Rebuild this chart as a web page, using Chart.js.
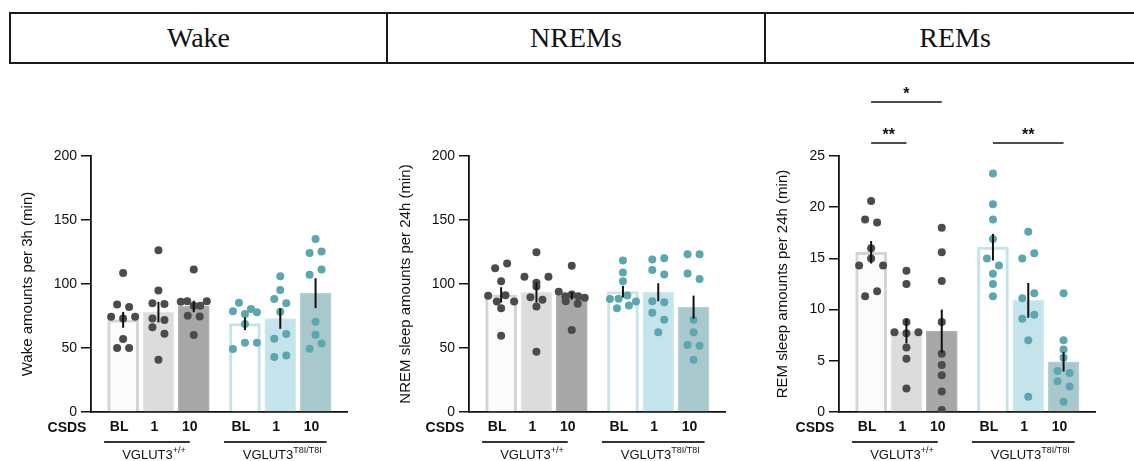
<!DOCTYPE html>
<html>
<head>
<meta charset="utf-8">
<title>Sleep amounts after CSDS</title>
<script src="https://cdn.jsdelivr.net/npm/chart.js@4.4.1/dist/chart.umd.min.js"></script>
<style>
  html, body { margin: 0; padding: 0; background: #fff; }
  body { width: 1134px; height: 461px; overflow: hidden; position: relative; }
  #header { position: absolute; left: 9px; top: 12px; height: 52px; width: 1137px; box-sizing: border-box;
            border: 2px solid #1a1a1a; display: flex; font-family: 'Liberation Serif', 'Times New Roman', serif;
            font-size: 28px; color: #111; }
  #header div { box-sizing: border-box; height: 48px; line-height: 48px; text-align: center; width: 378px; }
  #header div:nth-child(1) { width: 377px; border-right: 2px solid #1a1a1a; }
  #header div:nth-child(2) { border-right: 2px solid #1a1a1a; }
  .panel { position: absolute; top: 70px; width: 378px; height: 391px; }
</style>
</head>
<body>
<div id="header"></div>
<div class="panel" style="left:0px"><canvas id="wakeChart"></canvas></div>
<div class="panel" style="left:378px"><canvas id="nremChart"></canvas></div>
<div class="panel" style="left:748px"><canvas id="remChart"></canvas></div>
<script>
const headers = ['Wake', 'NREMs', 'REMs'];
const categories = ['BL', '1', '10'];
const genotypes = ['VGLUT3', 'VGLUT3'];
const genotypeSup = ['+/+', 'T8I/T8I'];

// group order everywhere: WT BL, WT 1, WT 10, T8I BL, T8I 1, T8I 10
const wakeMean = [72, 78, 82.5, 69, 73, 92.8];
const wakeSem = [6.2, 8, 4.5, 5, 8, 11.7];
const wakeWtBL = [108.5, 84, 82, 74.5, 73, 74.5, 57, 50, 50];
const wakeWt1 = [126.4, 94.9, 85, 84.3, 73.1, 71.8, 66.3, 61.1, 40.8];
const wakeWt10 = [111.3, 86.1, 86.6, 83, 83, 86.6, 75.2, 74.6, 60.1];
const wakeMutBL = [78.8, 76.5, 85.3, 78, 80.4, 68.7, 49.2, 54.1, 54.1];
const wakeMut1 = [106.1, 95.4, 88.2, 85, 78.3, 57.2, 60.9, 42.9, 44.2];
const wakeMut10 = [135.2, 124.3, 125.4, 107.2, 111.3, 70.5, 60.3, 49.4, 53.6];

const nremMean = [91.5, 93.5, 90.8, 94, 93.6, 81.9];
const nremSem = [6, 8, 3, 4.5, 7, 9];
const nremWtBL = [112.4, 116, 102.2, 90.8, 86.3, 91.3, 86.3, 81.1, 59.6];
const nremWt1 = [124.8, 105.6, 100.9, 105.6, 98, 89.7, 87.6, 82.4, 47.1];
const nremWt10 = [114.2, 93.9, 90.5, 91.8, 90.5, 89.2, 86.6, 84.5, 64];
const nremMutBL = [118.3, 109, 102.2, 88.2, 88.4, 91, 86.3, 81.1, 83.2];
const nremMut1 = [119.1, 120.2, 111, 107.4, 86.6, 85.8, 77.5, 72, 62.4];
const nremMut10 = [123.3, 123.3, 108.2, 104, 72, 62.4, 52.3, 51.8, 40.8];

const remMean = [15.6, 7.9, 7.9, 16.1, 10.9, 4.9];
const remSem = [1.1, 1.2, 2.1, 1.3, 1.7, 0.95];
const remWtBL = [20.6, 18.8, 18.5, 16, 14.3, 15, 14.3, 11.3, 11.8];
const remWt1 = [13.8, 12.5, 8.8, 7.8, 7.7, 7.8, 6.3, 5.2, 2.3];
const remWt10 = [18, 15.6, 12.8, 8.8, 5.7, 4.6, 3.6, 2, 0.2];
const remMutBL = [23.3, 20.3, 18.8, 16.9, 15, 14.3, 13.5, 12.5, 11.3];
const remMut1 = [17.6, 15, 15.5, 11.1, 11.6, 9.1, 9.5, 7, 1.5];
const remMut10 = [11.6, 7, 6.1, 5.3, 4, 3.8, 3, 2.5, 1];

// significance: [from bar, to bar, label, level]
const remSig = [[0, 1, '**', 0], [0, 2, '*', 1], [3, 5, '**', 0]];

const barFill = ['#fbfbfb', '#dcdcdc', '#a7a7a7', '#ffffff', '#c5e3ea', '#a9c8cd'];
const barEdge = ['#d4d4d4', '#e6e6e6', '#b0b0b0', '#c6e3ea', '#d0e9ee', '#b4d0d4'];
const barEdgeW = [3, 1.5, 1.5, 3, 1.5, 1.5];
const dotColor = ['#4b4b4b', '#4b4b4b', '#4b4b4b', '#5ba7b0', '#5ba7b0', '#5ba7b0'];

const X_MIN = 0.09, X_MAX = 7.34, AREA = 256;
const xPos = i => i + 1 + (i >= 3 ? 0.45 : 0);

document.getElementById('header').innerHTML = headers.map(h => '<div>' + h + '</div>').join('');

// prism-like scatter: points within one dot of each other are spread side by side
function swarm(values, yPx, xPx) {
    const order = values.map((v, i) => i).sort((a, b) => values[b] - values[a]);
    const offs = values.map(() => 0);
    let k = 0;
    while (k < order.length) {
        const top = values[order[k]];
        const cl = [];
        while (k < order.length && (top - values[order[k]]) * yPx < 8) cl.push(order[k++]);
        cl.sort((a, b) => a - b);
        const sp = cl.length > 1 ? Math.min(12, 26 / (cl.length - 1)) : 0;
        cl.forEach((idx, j) => { offs[idx] = (j - (cl.length - 1) / 2) * sp / xPx; });
    }
    return offs;
}

Chart.defaults.font.family = "'Liberation Sans', Arial, sans-serif";
Chart.defaults.color = '#111';

function makeChart(id, yTitle, mean, sem, groups, yMax, step, sig, padLeft) {
    const yPx = AREA / yMax, xPx = AREA / (X_MAX - X_MIN);
    const dots = [];
    const dotCols = [];
    groups.forEach((vals, i) => {
        const offs = swarm(vals, yPx, xPx);
        vals.forEach((v, j) => {
            dots.push({ x: xPos(i) + offs[j], y: v });
            dotCols.push(dotColor[i]);
        });
    });

    const extras = {
        id: 'extras',
        afterDatasetsDraw(chart) {
            const { ctx, scales: { x, y } } = chart;
            ctx.save();
            ctx.strokeStyle = '#111';
            ctx.lineWidth = 2;
            mean.forEach((m, i) => {
                const px = x.getPixelForValue(xPos(i));
                ctx.beginPath();
                ctx.moveTo(px, y.getPixelForValue(m - sem[i]));
                ctx.lineTo(px, y.getPixelForValue(m + sem[i]));
                ctx.stroke();
            });
            ctx.restore();
        },
        afterDraw(chart) {
            const { ctx, chartArea, scales: { x } } = chart;
            const b = chartArea.bottom;
            ctx.save();
            ctx.fillStyle = '#111';
            ctx.textAlign = 'center';
            ctx.textBaseline = 'alphabetic';
            ctx.font = "bold 14px 'Liberation Sans', Arial, sans-serif";
            ctx.fillText('CSDS', chartArea.left - 24, b + 20);

            // genotype underline + label
            const lineOff = [[-19, -4], [-21, 11]];
            genotypes.forEach((g, gi) => {
                const x0 = x.getPixelForValue(xPos(gi * 3)) + lineOff[gi][0];
                const x1 = x.getPixelForValue(xPos(gi * 3 + 2)) + lineOff[gi][1];
                ctx.strokeStyle = '#333';
                ctx.lineWidth = 1.8;
                ctx.beginPath();
                ctx.moveTo(x0, b + 30);
                ctx.lineTo(x1, b + 30);
                ctx.stroke();
                ctx.font = "13px 'Liberation Sans', Arial, sans-serif";
                const w1 = ctx.measureText(g).width;
                ctx.font = "9px 'Liberation Sans', Arial, sans-serif";
                const w2 = ctx.measureText(genotypeSup[gi]).width;
                const cx = (x0 + x1) / 2 + 7;
                const start = cx - (w1 + w2) / 2;
                ctx.textAlign = 'left';
                ctx.font = "13px 'Liberation Sans', Arial, sans-serif";
                ctx.fillText(g, start, b + 46.5);
                ctx.font = "9px 'Liberation Sans', Arial, sans-serif";
                ctx.fillText(genotypeSup[gi], start + w1, b + 41);
                ctx.textAlign = 'center';
            });

            // significance brackets
            sig.forEach(([a, c, label, level]) => {
                const x0 = x.getPixelForValue(xPos(a));
                const x1 = x.getPixelForValue(xPos(c));
                const ly = chartArea.top - 13 - level * 41;
                ctx.strokeStyle = '#111';
                ctx.lineWidth = 1.5;
                ctx.beginPath();
                ctx.moveTo(x0, ly);
                ctx.lineTo(x1, ly);
                ctx.stroke();
                ctx.font = "bold 16px 'Liberation Sans', Arial, sans-serif";
                ctx.fillText(label, (x0 + x1) / 2, ly - 3);
            });
            ctx.restore();
        }
    };

    return new Chart(document.getElementById(id), {
        type: 'bar',
        data: {
            datasets: [
                {
                    type: 'scatter',
                    data: dots,
                    pointRadius: 4,
                    pointHoverRadius: 4,
                    pointBorderWidth: 0,
                    pointBackgroundColor: dotCols,
                    order: 1
                },
                {
                    data: mean.map((m, i) => ({ x: xPos(i), y: m })),
                    backgroundColor: barFill,
                    borderColor: barEdge,
                    borderWidth: barEdgeW,
                    borderSkipped: 'start',
                    barThickness: 31,
                    order: 2
                }
            ]
        },
        options: {
            responsive: true,
            maintainAspectRatio: false,
            animation: false,
            events: [],
            layout: { padding: { top: 86, left: padLeft, right: 378 - 91 - AREA, bottom: 0 } },
            plugins: { legend: { display: false }, tooltip: { enabled: false } },
            scales: {
                x: {
                    type: 'linear',
                    min: X_MIN,
                    max: X_MAX,
                    offset: false,
                    grid: { display: false, drawTicks: false, offset: false },
                    border: { display: true, color: '#111', width: 1.8 },
                    afterBuildTicks: s => { s.ticks = mean.map((m, i) => ({ value: xPos(i) })); },
                    afterFit: s => { s.height = 49; s.paddingLeft = 0; s.paddingRight = 0; },
                    ticks: {
                        autoSkip: false,
                        maxRotation: 0,
                        padding: 7,
                        labelOffset: -4,
                        color: '#111',
                        font: { size: 14, weight: 'bold' },
                        callback: (v, i) => categories[i % 3]
                    }
                },
                y: {
                    min: 0,
                    max: yMax,
                    afterFit: s => { s.width = 91 - padLeft; s.paddingTop = 0; s.paddingBottom = 0; },
                    grid: { display: true, drawOnChartArea: false, drawTicks: true, tickLength: 10, color: '#111', lineWidth: 1.5 },
                    border: { display: true, color: '#111', width: 1.8 },
                    ticks: { stepSize: step, padding: 4, color: '#111', font: { size: 14 } },
                    title: { display: true, text: yTitle, color: '#111', font: { size: 15 }, padding: { top: 0, bottom: 0 } }
                }
            }
        },
        plugins: [extras]
    });
}

makeChart('wakeChart', 'Wake amounts per 3h (min)', wakeMean, wakeSem,
    [wakeWtBL, wakeWt1, wakeWt10, wakeMutBL, wakeMut1, wakeMut10], 200, 50, [], 19);
makeChart('nremChart', 'NREM sleep amounts per 24h (min)', nremMean, nremSem,
    [nremWtBL, nremWt1, nremWt10, nremMutBL, nremMut1, nremMut10], 200, 50, [], 19);
makeChart('remChart', 'REM sleep amounts per 24h (min)', remMean, remSem,
    [remWtBL, remWt1, remWt10, remMutBL, remMut1, remMut10], 25, 5, remSig, 26);
</script>
</body>
</html>
